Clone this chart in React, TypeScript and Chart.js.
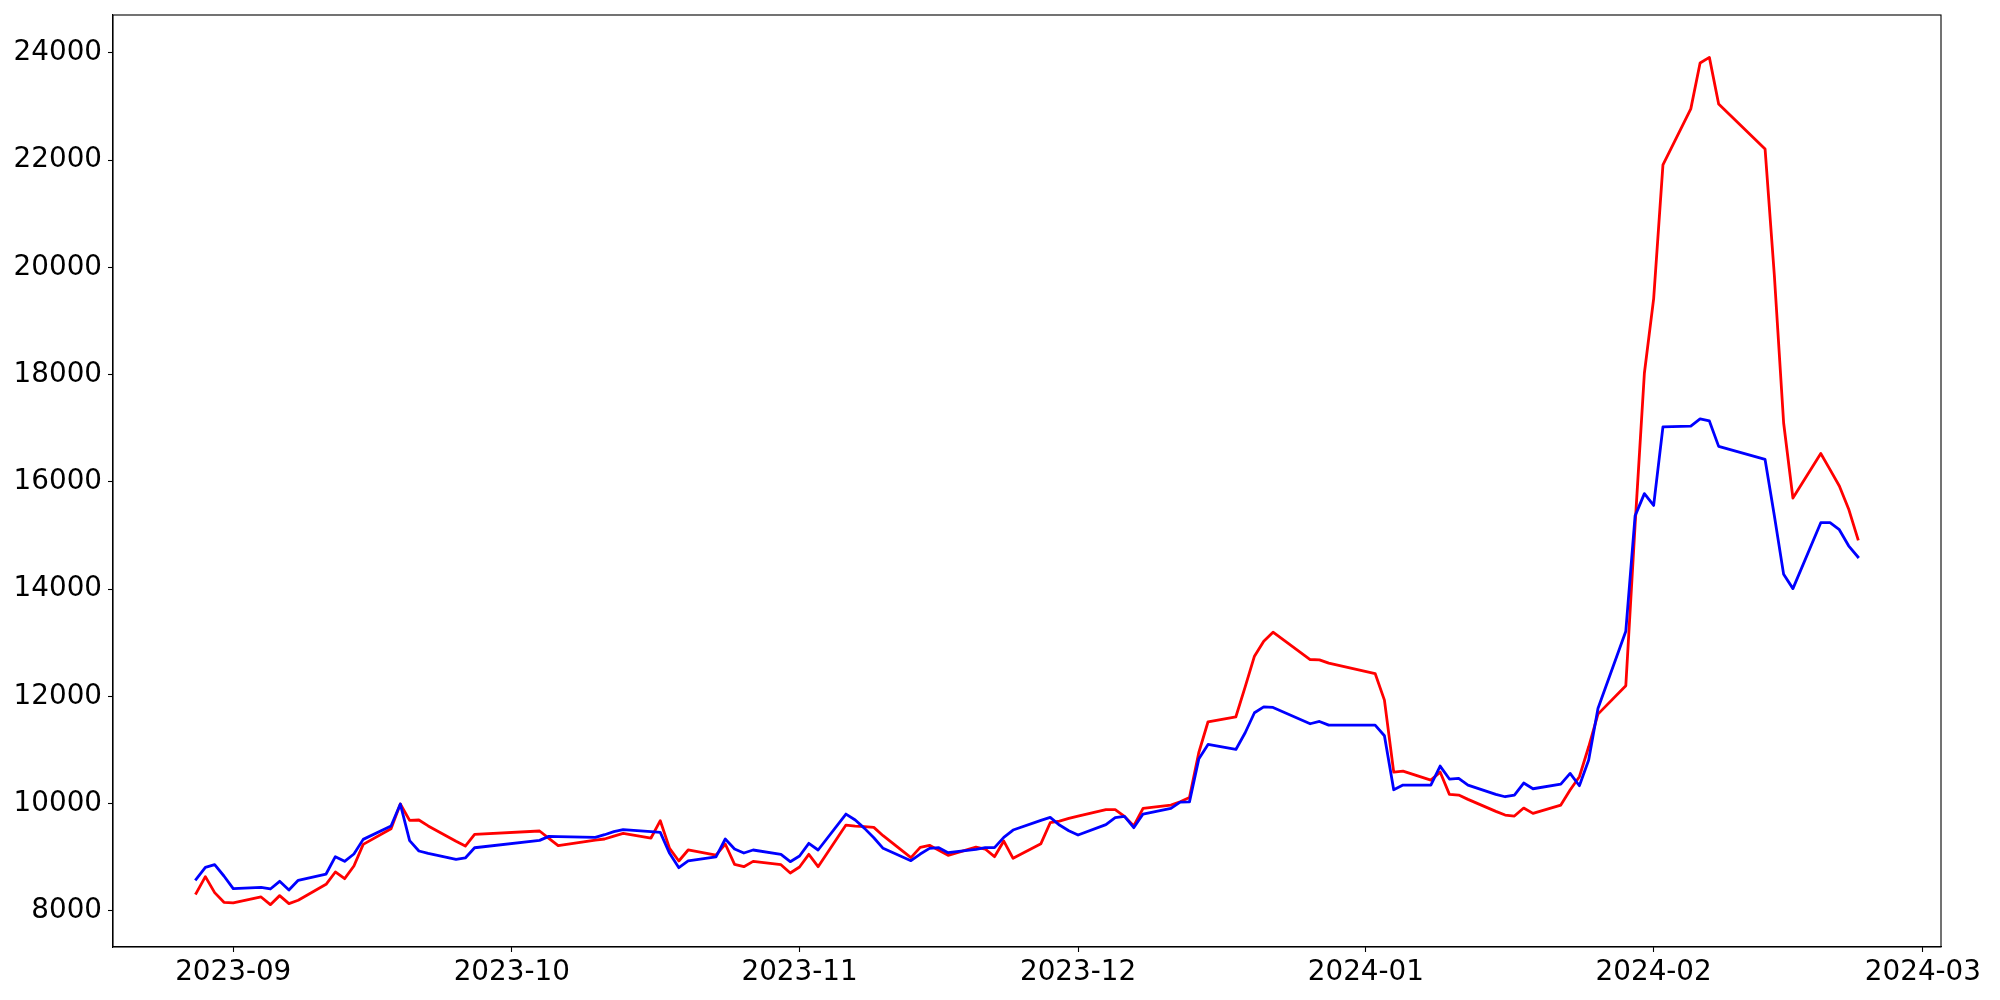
import React, { useEffect, useRef } from "react";
import { Chart, registerables } from "chart.js";

Chart.register(...registerables);

const dates = [
  "2023-08-28", "2023-08-29", "2023-08-30", "2023-08-31", "2023-09-01",
  "2023-09-04", "2023-09-05", "2023-09-06", "2023-09-07", "2023-09-08",
  "2023-09-11", "2023-09-12", "2023-09-13", "2023-09-14", "2023-09-15",
  "2023-09-18", "2023-09-19", "2023-09-20", "2023-09-21", "2023-09-22",
  "2023-09-25", "2023-09-26", "2023-09-27",
  "2023-10-04", "2023-10-05", "2023-10-06",
  "2023-10-10", "2023-10-11", "2023-10-12", "2023-10-13",
  "2023-10-16", "2023-10-17", "2023-10-18", "2023-10-19", "2023-10-20",
  "2023-10-23", "2023-10-24", "2023-10-25", "2023-10-26", "2023-10-27",
  "2023-10-30", "2023-10-31", "2023-11-01", "2023-11-02", "2023-11-03",
  "2023-11-06", "2023-11-07", "2023-11-08", "2023-11-09", "2023-11-10",
  "2023-11-13", "2023-11-14", "2023-11-15", "2023-11-16", "2023-11-17",
  "2023-11-20", "2023-11-21", "2023-11-22", "2023-11-23", "2023-11-24",
  "2023-11-27", "2023-11-28", "2023-11-29", "2023-11-30", "2023-12-01",
  "2023-12-04", "2023-12-05", "2023-12-06", "2023-12-07", "2023-12-08",
  "2023-12-11", "2023-12-12", "2023-12-13", "2023-12-14", "2023-12-15",
  "2023-12-18", "2023-12-19", "2023-12-20", "2023-12-21", "2023-12-22",
  "2023-12-26", "2023-12-27", "2023-12-28",
  "2024-01-02", "2024-01-03", "2024-01-04", "2024-01-05",
  "2024-01-08", "2024-01-09", "2024-01-10", "2024-01-11", "2024-01-12",
  "2024-01-15", "2024-01-16", "2024-01-17", "2024-01-18", "2024-01-19",
  "2024-01-22", "2024-01-23", "2024-01-24", "2024-01-25", "2024-01-26",
  "2024-01-29", "2024-01-30", "2024-01-31", "2024-02-01", "2024-02-02",
  "2024-02-05", "2024-02-06", "2024-02-07", "2024-02-08",
  "2024-02-13", "2024-02-14", "2024-02-15", "2024-02-16",
  "2024-02-19", "2024-02-20", "2024-02-21", "2024-02-22", "2024-02-23",
];

const redValues = [
  8329, 8640, 8342, 8161, 8149,
  8261, 8118, 8286, 8137, 8199,
  8497, 8727, 8602, 8838, 9242,
  9534, 9994, 9689, 9696, 9586,
  9299, 9211, 9429,
  9491, 9354, 9217,
  9323, 9342, 9397, 9447,
  9360, 9683, 9168, 8932, 9137,
  9043, 9248, 8870, 8826, 8925,
  8863, 8708, 8820, 9056, 8826,
  9602, 9584, 9571, 9559, 9404,
  8994, 9186, 9224, 9130, 9037,
  9190, 9155, 9012, 9304, 8981,
  9255, 9646, 9677, 9727, 9770,
  9888, 9888, 9764, 9584, 9913,
  9975, 10037, 10115, 10950, 11528,
  11621, 12180, 12751, 13031, 13199,
  12689, 12683, 12621,
  12428, 11932, 10590, 10609,
  10441, 10590, 10174, 10161, 10081,
  9857, 9789, 9770, 9919, 9820,
  9975, 10255, 10503, 11062, 11671,
  12199, 15200, 18027, 19420, 21913,
  22957, 23814, 23918, 23049,
  22211, 19850, 17100, 15700,
  16530, 16230, 15925, 15497, 14937,
];

const blueValues = [
  8590, 8814, 8863, 8652, 8416,
  8441, 8410, 8553, 8391, 8571,
  8689, 9012, 8925, 9062, 9335,
  9584, 9994, 9311, 9118, 9073,
  8963, 8988, 9179,
  9317, 9391, 9385,
  9373, 9422, 9478, 9515,
  9478, 9466, 9075, 8807, 8932,
  9010, 9342, 9155, 9081, 9137,
  9056, 8919, 9025, 9261, 9137,
  9807, 9696, 9540, 9366, 9168,
  8938, 9062, 9168, 9180, 9087,
  9150, 9180, 9180, 9373, 9509,
  9689, 9745, 9602, 9497, 9416,
  9609, 9739, 9764, 9553, 9807,
  9913, 10031, 10034, 10832, 11106,
  11012, 11323, 11696, 11807, 11795,
  11491, 11534, 11466,
  11466, 11267, 10261, 10348,
  10348, 10702, 10460, 10472, 10348,
  10174, 10130, 10161, 10385, 10279,
  10366, 10565, 10335, 10814, 11776,
  13217, 15367, 15783, 15563, 17028,
  17043, 17175, 17138, 16664,
  16420, 15370, 14277, 14011,
  15240, 15240, 15110, 14810, 14602,
];

const xTickDates = [
  "2023-09-01", "2023-10-01", "2023-11-01", "2023-12-01",
  "2024-01-01", "2024-02-01", "2024-03-01",
];
const xTickLabels = ["2023-09", "2023-10", "2023-11", "2023-12", "2024-01", "2024-02", "2024-03"];
const yTicks = [8000, 10000, 12000, 14000, 16000, 18000, 20000, 22000, 24000];

const toDay = (s: string) => {
  const [y, m, d] = s.split("-").map(Number);
  return Date.UTC(y, m - 1, d) / 86400000;
};

const FONT = { family: "'DejaVu Sans', sans-serif", size: 27.8 };

export default function App() {
  const ref = useRef<HTMLCanvasElement>(null);

  useEffect(() => {
    if (!ref.current) return;
    const xs = dates.map(toDay);
    const xMin0 = Math.min(...xs);
    const xMax0 = Math.max(...xs);
    const xPad = (xMax0 - xMin0) * 0.05;
    const allY = [...redValues, ...blueValues];
    const yMin0 = Math.min(...allY);
    const yMax0 = Math.max(...allY);
    const yPad = (yMax0 - yMin0) * 0.05;

    const frame = {
      id: "frame",
      afterDatasetsDraw(chart: any) {
        const { ctx, chartArea: a } = chart;
        ctx.save();
        ctx.strokeStyle = "#000";
        ctx.lineWidth = 1.1;
        ctx.strokeRect(a.left, a.top, a.right - a.left, a.bottom - a.top);
        ctx.restore();
      },
    };

    const lineStyle = {
      borderWidth: 2.8,
      pointRadius: 0,
      tension: 0,
      fill: false,
      borderJoinStyle: "round",
      borderCapStyle: "square",
    };

    const chart = new Chart(ref.current, {
      type: "line",
      data: {
        datasets: [
          {
            label: "blue",
            data: xs.map((x, i) => ({ x, y: blueValues[i] })),
            borderColor: "#0000ff",
            backgroundColor: "#0000ff",
            order: 0,
            ...lineStyle,
          },
          {
            label: "red",
            data: xs.map((x, i) => ({ x, y: redValues[i] })),
            borderColor: "#ff0000",
            backgroundColor: "#ff0000",
            order: 1,
            ...lineStyle,
          },
        ],
      },
      options: {
        animation: false,
        responsive: false,
        devicePixelRatio: 1,
        layout: { padding: { top: 15, right: 59, left: 0, bottom: 0 } },
        plugins: { legend: { display: false }, tooltip: { enabled: false } },
        scales: {
          x: {
            type: "linear",
            min: xMin0 - xPad,
            max: xMax0 + xPad,
            afterBuildTicks: (s: any) => {
              s.ticks = xTickDates.map((d) => ({ value: toDay(d) }));
            },
            afterFit: (s: any) => {
              s.height = 53;
              s.paddingLeft = 0;
              s.paddingRight = 0;
            },
            ticks: {
              callback: (v: any) => {
                const i = xTickDates.findIndex((d) => toDay(d) === v);
                return i >= 0 ? xTickLabels[i] : "";
              },
              font: FONT,
              color: "#000",
              padding: 4,
              maxRotation: 0,
              minRotation: 0,
              autoSkip: false,
            },
            grid: {
              display: true,
              drawOnChartArea: false,
              drawTicks: true,
              tickLength: 5,
              tickWidth: 1.1,
              color: "#000",
            },
            border: { display: true, color: "#000", width: 1.1 },
          },
          y: {
            type: "linear",
            min: yMin0 - yPad,
            max: yMax0 + yPad,
            afterBuildTicks: (s: any) => {
              s.ticks = yTicks.map((v) => ({ value: v }));
            },
            afterFit: (s: any) => {
              s.width = 113;
              s.paddingTop = 0;
              s.paddingBottom = 0;
            },
            ticks: {
              callback: (v: any) => String(v),
              font: FONT,
              color: "#000",
              padding: 6,
              autoSkip: false,
            },
            grid: {
              display: true,
              drawOnChartArea: false,
              drawTicks: true,
              tickLength: 5,
              tickWidth: 1.1,
              color: "#000",
            },
            border: { display: true, color: "#000", width: 1.1 },
          },
        },
      },
      plugins: [frame],
    } as any);

    return () => chart.destroy();
  }, []);

  return (
    <div style={{ position: "absolute", left: 0, top: 0, width: 2000, height: 1000, background: "#fff" }}>
      <canvas ref={ref} width={2000} height={1000} style={{ display: "block", width: 2000, height: 1000 }} />
    </div>
  );
}
